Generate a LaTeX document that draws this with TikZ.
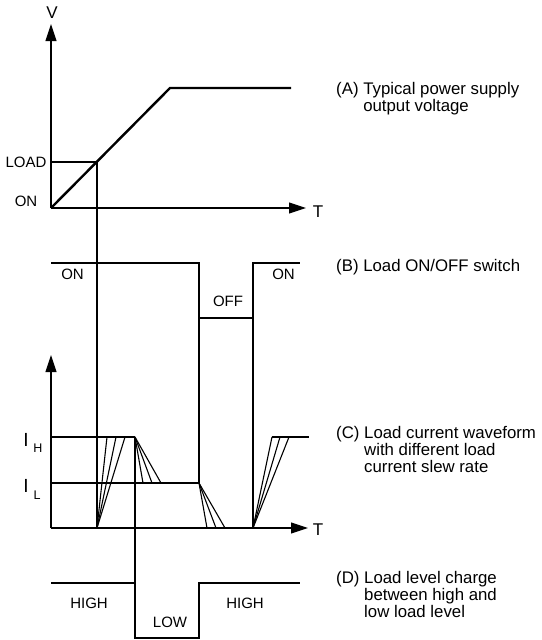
\documentclass[tikz,border=0pt]{standalone}
\usepackage{fontspec}
\setmainfont{Liberation Sans}
\usetikzlibrary{arrows.meta}
\tikzset{
  thinl/.style={line width=1.1pt},
  thickl/.style={line width=2.4pt},
  medl/.style={line width=1.8pt},
  axisarr/.style={line width=1.1pt,-{Triangle[length=17pt,width=11pt]}},
  lbl/.style={inner sep=0pt,font=\fontsize{15}{15}\selectfont},
  biglbl/.style={inner sep=0pt,font=\fontsize{17}{17}\selectfont},
  ilbl/.style={inner sep=0pt,font=\fontsize{19}{19}\selectfont},
  sublbl/.style={inner sep=0pt,font=\fontsize{12.5}{12.5}\selectfont},
  desc/.style={inner sep=0pt,anchor=base west,font=\fontsize{16.8}{16.5}\selectfont}
}
\begin{document}
\begin{tikzpicture}[x=1pt,y=-1pt]
\useasboundingbox (0,0) rectangle (541,640);
% ---------- Panel A ----------
\coordinate (oA) at (51,208);
\coordinate (vtop) at (51,24);
\coordinate (ttipA) at (306,208);
\draw[axisarr] (oA) -- (vtop);
\draw[axisarr] (oA) -- (ttipA);
\node[biglbl] (V) at (52,13) {V};
\node[biglbl] (TA) at (318,212) {T};
\node[lbl] (LOAD) at (26,162) {LOAD};
\node[lbl] (ONA) at (26,201) {ON};
\draw[thinl] (51,162) -- (97,162) -- (97,528);
\draw[thickl,line join=miter] (oA) -- (170,88) -- (291,88);
% ---------- Panel B ----------
\draw[thickl,line join=miter] (51,263) -- (199,263) -- (199,318) -- (253,318) -- (253,263) -- (300,263);
\node[lbl] (ONB1) at (72.5,274) {ON};
\node[lbl] (OFFB) at (228,301) {OFF};
\node[lbl] (ONB2) at (283.5,274) {ON};
\draw[thinl] (199,318) -- (199,483);
\draw[thinl] (253,318) -- (253,528);
% ---------- Panel C ----------
\coordinate (oC) at (51,528);
\draw[axisarr] (oC) -- (51,355);
\draw[axisarr] (oC) -- (308,528);
\node[biglbl] (TC) at (318,530) {T};
\node[ilbl] (IH) at (26,440) {I};
\node[sublbl] (IHs) at (38,448) {H};
\node[ilbl] (IL) at (26,486) {I};
\node[sublbl] (ILs) at (37,495) {L};
\draw[thinl] (51,437) -- (107,437);
\draw[thickl] (107,437) -- (135,437);
\draw[thinl] (51,483) -- (162,483);
\draw[thickl] (162,483) -- (199,483);
\draw[thickl] (225,528) -- (253,528);
\draw[medl] (272,437) -- (309,437);
\foreach \x in {107,116,125} \draw[thinl] (97,528) -- (\x,437);
\foreach \x in {143,152,161} \draw[thinl] (135,437) -- (\x,483);
\foreach \x in {207,216,225} \draw[thinl] (199,483) -- (\x,528);
\foreach \x in {272,280,289} \draw[thinl] (253,528) -- (\x,437);
\draw[thinl] (135,437) -- (135,583);
% ---------- Panel D ----------
\draw[thickl,line join=miter] (51,583) -- (135,583) -- (135,638) -- (199,638) -- (199,583) -- (300,583);
\node[lbl] (HIGH1) at (89,603.5) {HIGH};
\node[lbl] (LOW) at (170,622.5) {LOW};
\node[lbl] (HIGH2) at (245,603.5) {HIGH};
% ---------- Descriptions ----------
\node[desc] (dA) at (336,94) {\begin{tabular}[t]{@{}l@{ }l@{}}(A) & Typical power supply\\ & output voltage\end{tabular}};
\node[desc] (dB) at (336,271) {\begin{tabular}[t]{@{}l@{ }l@{}}(B) & Load ON/OFF switch\end{tabular}};
\node[desc] (dC) at (336,438) {\begin{tabular}[t]{@{}l@{ }l@{}}(C) & Load current waveform\\ & with different load\\ & current slew rate\end{tabular}};
\node[desc] (dD) at (336,583) {\begin{tabular}[t]{@{}l@{ }l@{}}(D) & Load level charge\\ & between high and\\ & low load level\end{tabular}};
\end{tikzpicture}
\end{document}
